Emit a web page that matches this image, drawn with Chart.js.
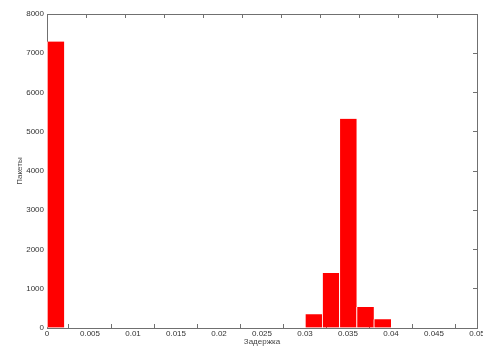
<!DOCTYPE html>
<html>
<head>
<meta charset="utf-8">
<script src="https://cdn.jsdelivr.net/npm/chart.js@4"></script>
<style>
  html, body { margin: 0; padding: 0; background: #fff; }
  #wrap { width: 483px; height: 346px; }
</style>
</head>
<body>
<div id="wrap"><canvas id="hist"></canvas></div>
<script>
// bin centres (width 0.002) and packet counts per bin
const binCenters = [0.001, 0.003, 0.005, 0.007, 0.009, 0.011, 0.013, 0.015, 0.017, 0.019,
                    0.021, 0.023, 0.025, 0.027, 0.029, 0.031, 0.033, 0.035, 0.037, 0.039,
                    0.041, 0.043, 0.045, 0.047, 0.049];
const packetCounts = [7300, 0, 0, 0, 0, 0, 0, 0, 0, 0,
                      0, 0, 0, 0, 0, 350, 1400, 5330, 535, 220,
                      15, 0, 0, 0, 0];
const xTicks = [0, 0.005, 0.01, 0.015, 0.02, 0.025, 0.03, 0.035, 0.04, 0.045, 0.05];
const yTicks = [0, 1000, 2000, 3000, 4000, 5000, 6000, 7000, 8000];

Chart.defaults.font.family = '"Liberation Sans", Arial, sans-serif';
Chart.defaults.font.size = 8;
Chart.defaults.color = '#333';

const axisColor = '#707070';

function fixSize(size) {
  return s => {
    if (s.isHorizontal()) s.height = size; else s.width = size;
    s.paddingLeft = s.paddingRight = s.paddingTop = s.paddingBottom = 0;
  };
}
function setTicks(list) {
  return s => { s.ticks = list.map(v => ({ value: v })); };
}
const fmt = v => String(+Number(v).toFixed(3));

new Chart(document.getElementById('hist'), {
  type: 'bar',
  data: {
    labels: binCenters,
    datasets: [{
      data: binCenters.map((c, i) => ({ x: c, y: packetCounts[i] })),
      backgroundColor: '#ff0000',
      borderColor: '#ffffff',
      borderWidth: { left: 1, right: 0, top: 0, bottom: 0 },
      borderSkipped: false,
      barPercentage: 1,
      categoryPercentage: 1
    }]
  },
  options: {
    responsive: true,
    maintainAspectRatio: false,
    animation: false,
    layout: { padding: 0 },
    plugins: { legend: { display: false }, tooltip: { enabled: false } },
    scales: {
      x: {
        type: 'linear', position: 'bottom', min: 0, max: 0.05, offset: false,
        afterBuildTicks: setTicks(xTicks),
        afterFit: fixSize(18),
        grid: { drawOnChartArea: false, drawTicks: true, tickLength: -4, color: axisColor },
        border: { display: true, color: axisColor },
        ticks: { padding: 5, maxRotation: 0, autoSkip: false, callback: fmt },
        title: { display: true, text: 'Задержка', color: '#444', padding: { top: 0, bottom: -1 } }
      },
      x2: {
        type: 'linear', position: 'top', min: 0, max: 0.05,
        afterBuildTicks: setTicks(xTicks),
        afterFit: fixSize(14),
        grid: { drawOnChartArea: false, drawTicks: true, tickLength: -4, color: axisColor },
        border: { display: true, color: axisColor },
        ticks: { display: false }
      },
      y: {
        type: 'linear', position: 'left', min: 0, max: 8000,
        afterBuildTicks: setTicks(yTicks),
        afterFit: fixSize(47),
        grid: { drawOnChartArea: false, drawTicks: true, tickLength: -4, color: axisColor },
        border: { display: true, color: axisColor },
        ticks: { padding: 7, callback: v => String(v) },
        title: { display: true, text: 'Пакеты', color: '#444', padding: { top: 15, bottom: 0 } }
      },
      y2: {
        type: 'linear', position: 'right', min: 0, max: 8000,
        afterBuildTicks: setTicks(yTicks),
        afterFit: fixSize(6),
        grid: { drawOnChartArea: false, drawTicks: true, tickLength: -4, color: axisColor },
        border: { display: true, color: axisColor },
        ticks: { display: false }
      }
    }
  }
});
</script>
</body>
</html>
